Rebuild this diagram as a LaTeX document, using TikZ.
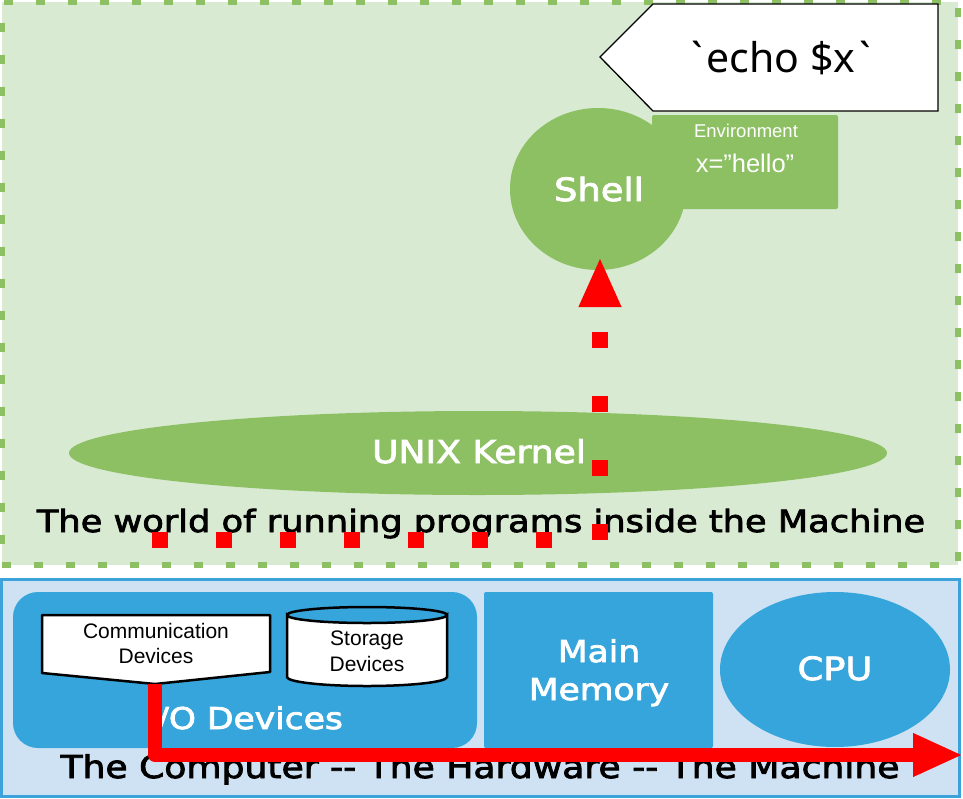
\documentclass[tikz,border=0pt]{standalone}
\usepackage{fontspec}
\usetikzlibrary{arrows.meta,shapes.geometric}
\newfontfamily\orb[FakeStretch=1.15,FakeBold=2.6]{DejaVu Sans}
\newfontfamily\arialf{Liberation Sans}
\newfontfamily\notof{Noto Sans}
\definecolor{lgreen}{HTML}{D9EAD3}
\definecolor{mgreen}{HTML}{8DC063}
\definecolor{lblue}{HTML}{CFE2F3}
\definecolor{mblue}{HTML}{35A5DB}
\definecolor{bblue}{HTML}{3BA3D9}
\tikzset{
  orbtext/.style={font=\orb\fontsize{30}{36}\selectfont, anchor=base, inner sep=0pt},
  whiteorb/.style={orbtext, text=white},
  blackorb/.style={orbtext, text=black},
  smalltext/.style={font=\arialf\fontsize{21}{25}\selectfont, anchor=base, inner sep=0pt, align=center},
  greenshape/.style={fill=mgreen, draw=none},
  blueshape/.style={fill=mblue, draw=none},
  flowpath/.style={draw=red, line width=14pt, line join=round, -{Triangle[length=50pt,width=40pt]}},
  dotpath/.style={draw=red, line width=16pt, dash pattern=on 16pt off 48pt, -{Triangle[length=50pt,width=39pt]}},
}
\begin{document}
\begin{tikzpicture}[x=1pt, y=-1pt]
\useasboundingbox (0,0) rectangle (963,798);
% ---------- green world ----------
\node[draw=mgreen, fill=lgreen, line width=6pt, dash pattern=on 9pt off 23pt, minimum width=956pt, minimum height=563pt, inner sep=0pt] (world) at (480,283) {};
\node[greenshape, ellipse, minimum width=818pt, minimum height=84pt, inner sep=0pt] (kernel) at (478,453) {};
\node[whiteorb, font=\orb\fontsize{31.4}{36}\selectfont] (kerneltxt) at (479,463) {UNIX Kernel};
\node[greenshape, ellipse, minimum width=176pt, minimum height=162pt, inner sep=0pt] (shell) at (598,189) {};
\node[greenshape, rounded corners=2pt, minimum width=186pt, minimum height=94pt, inner sep=0pt] (env) at (745,162) {};
\node[whiteorb, font=\orb\fontsize{32}{38}\selectfont] (shelltxt) at (599,201) {Shell};
\node[font=\arialf\fontsize{18.5}{22}\selectfont, text=white, anchor=base, inner sep=0pt] (envtitle) at (746,137) {Environment};
\node[font=\arialf\fontsize{25.5}{28}\selectfont, text=white, anchor=base, inner sep=0pt] (envval) at (745,172) {x=”hello”};
% echo box
\coordinate (e1) at (600,57);
\coordinate (e2) at (653,4);
\coordinate (e3) at (938,4);
\coordinate (e4) at (938,111);
\coordinate (e5) at (653,111);
\draw[fill=white, draw=black, line width=1.3pt] (e1) -- (e2) -- (e3) -- (e4) -- (e5) -- cycle;
\node[font=\notof\fontsize{41}{48}\selectfont, anchor=base, inner sep=0pt] (echo) at (781,72) {\symbol{96}\kern4pt echo \$x\kern4pt\symbol{96}};
\node[blackorb, font=\orb\fontsize{30.6}{36}\selectfont] (worldtxt) at (481,532) {The world of running programs inside the Machine};
% ---------- blue computer ----------
\node[draw=bblue, fill=lblue, line width=3pt, minimum width=958pt, minimum height=217pt, inner sep=0pt] (computer) at (480,687.5) {};
\node[blueshape, rounded corners=25pt, minimum width=464pt, minimum height=156pt, inner sep=0pt] (io) at (245,670) {};
\node[blueshape, rounded corners=2pt, minimum width=229pt, minimum height=156pt, inner sep=0pt] (mem) at (598.5,670) {};
\node[blueshape, ellipse, minimum width=230pt, minimum height=155pt, inner sep=0pt] (cpu) at (835,669.5) {};
\node[whiteorb] (iotxt) at (245,729) {I/O Devices};
\node[whiteorb] (memtxt1) at (599,662) {Main};
\node[whiteorb] (memtxt2) at (599,700) {Memory};
\node[whiteorb, font=\orb\fontsize{32}{36}\selectfont] (cputxt) at (835,680) {CPU};
% communication devices
\coordinate (c1) at (42,615);
\coordinate (c2) at (270,615);
\coordinate (c3) at (270,672);
\coordinate (ctip) at (155,684);
\coordinate (c5) at (42,673);
\draw[fill=white, draw=black, line width=2.5pt, line join=round] (c1) -- (c2) -- (c3) -- (ctip) -- (c5) -- cycle;
\node[smalltext] (commtxt1) at (156,638) {Communication};
\node[smalltext] (commtxt2) at (156,663) {Devices};
% storage devices cylinder
\coordinate (s1) at (287,615);
\coordinate (s2) at (447,615);
\draw[fill=white, draw=black, line width=2.5pt] (s1) -- (287,677) arc[start angle=180, end angle=360, x radius=80pt, y radius=9pt] -- (s2) arc[start angle=0, end angle=-180, x radius=80pt, y radius=8pt] -- cycle;
\draw[draw=black, line width=2.5pt] (s1) arc[start angle=180, end angle=0, x radius=80pt, y radius=8pt];
\node[smalltext] (stortxt1) at (367,645) {Storage};
\node[smalltext] (stortxt2) at (367,671) {Devices};
\node[blackorb, font=\orb\fontsize{31.4}{36}\selectfont] (comptxt) at (480,778) {The Computer -- The Hardware -- The Machine};
% ---------- red paths ----------
\coordinate (bend) at (155,755);
\coordinate (flowend) at (963,755);
\draw[flowpath] (ctip) -- (bend) -- (flowend);
\coordinate (dstart) at (152,540);
\coordinate (dcorner) at (600,540);
\coordinate (dend) at (600,257);
\draw[dotpath] (dstart) -- (dcorner) -- (dend);
\end{tikzpicture}
\end{document}
